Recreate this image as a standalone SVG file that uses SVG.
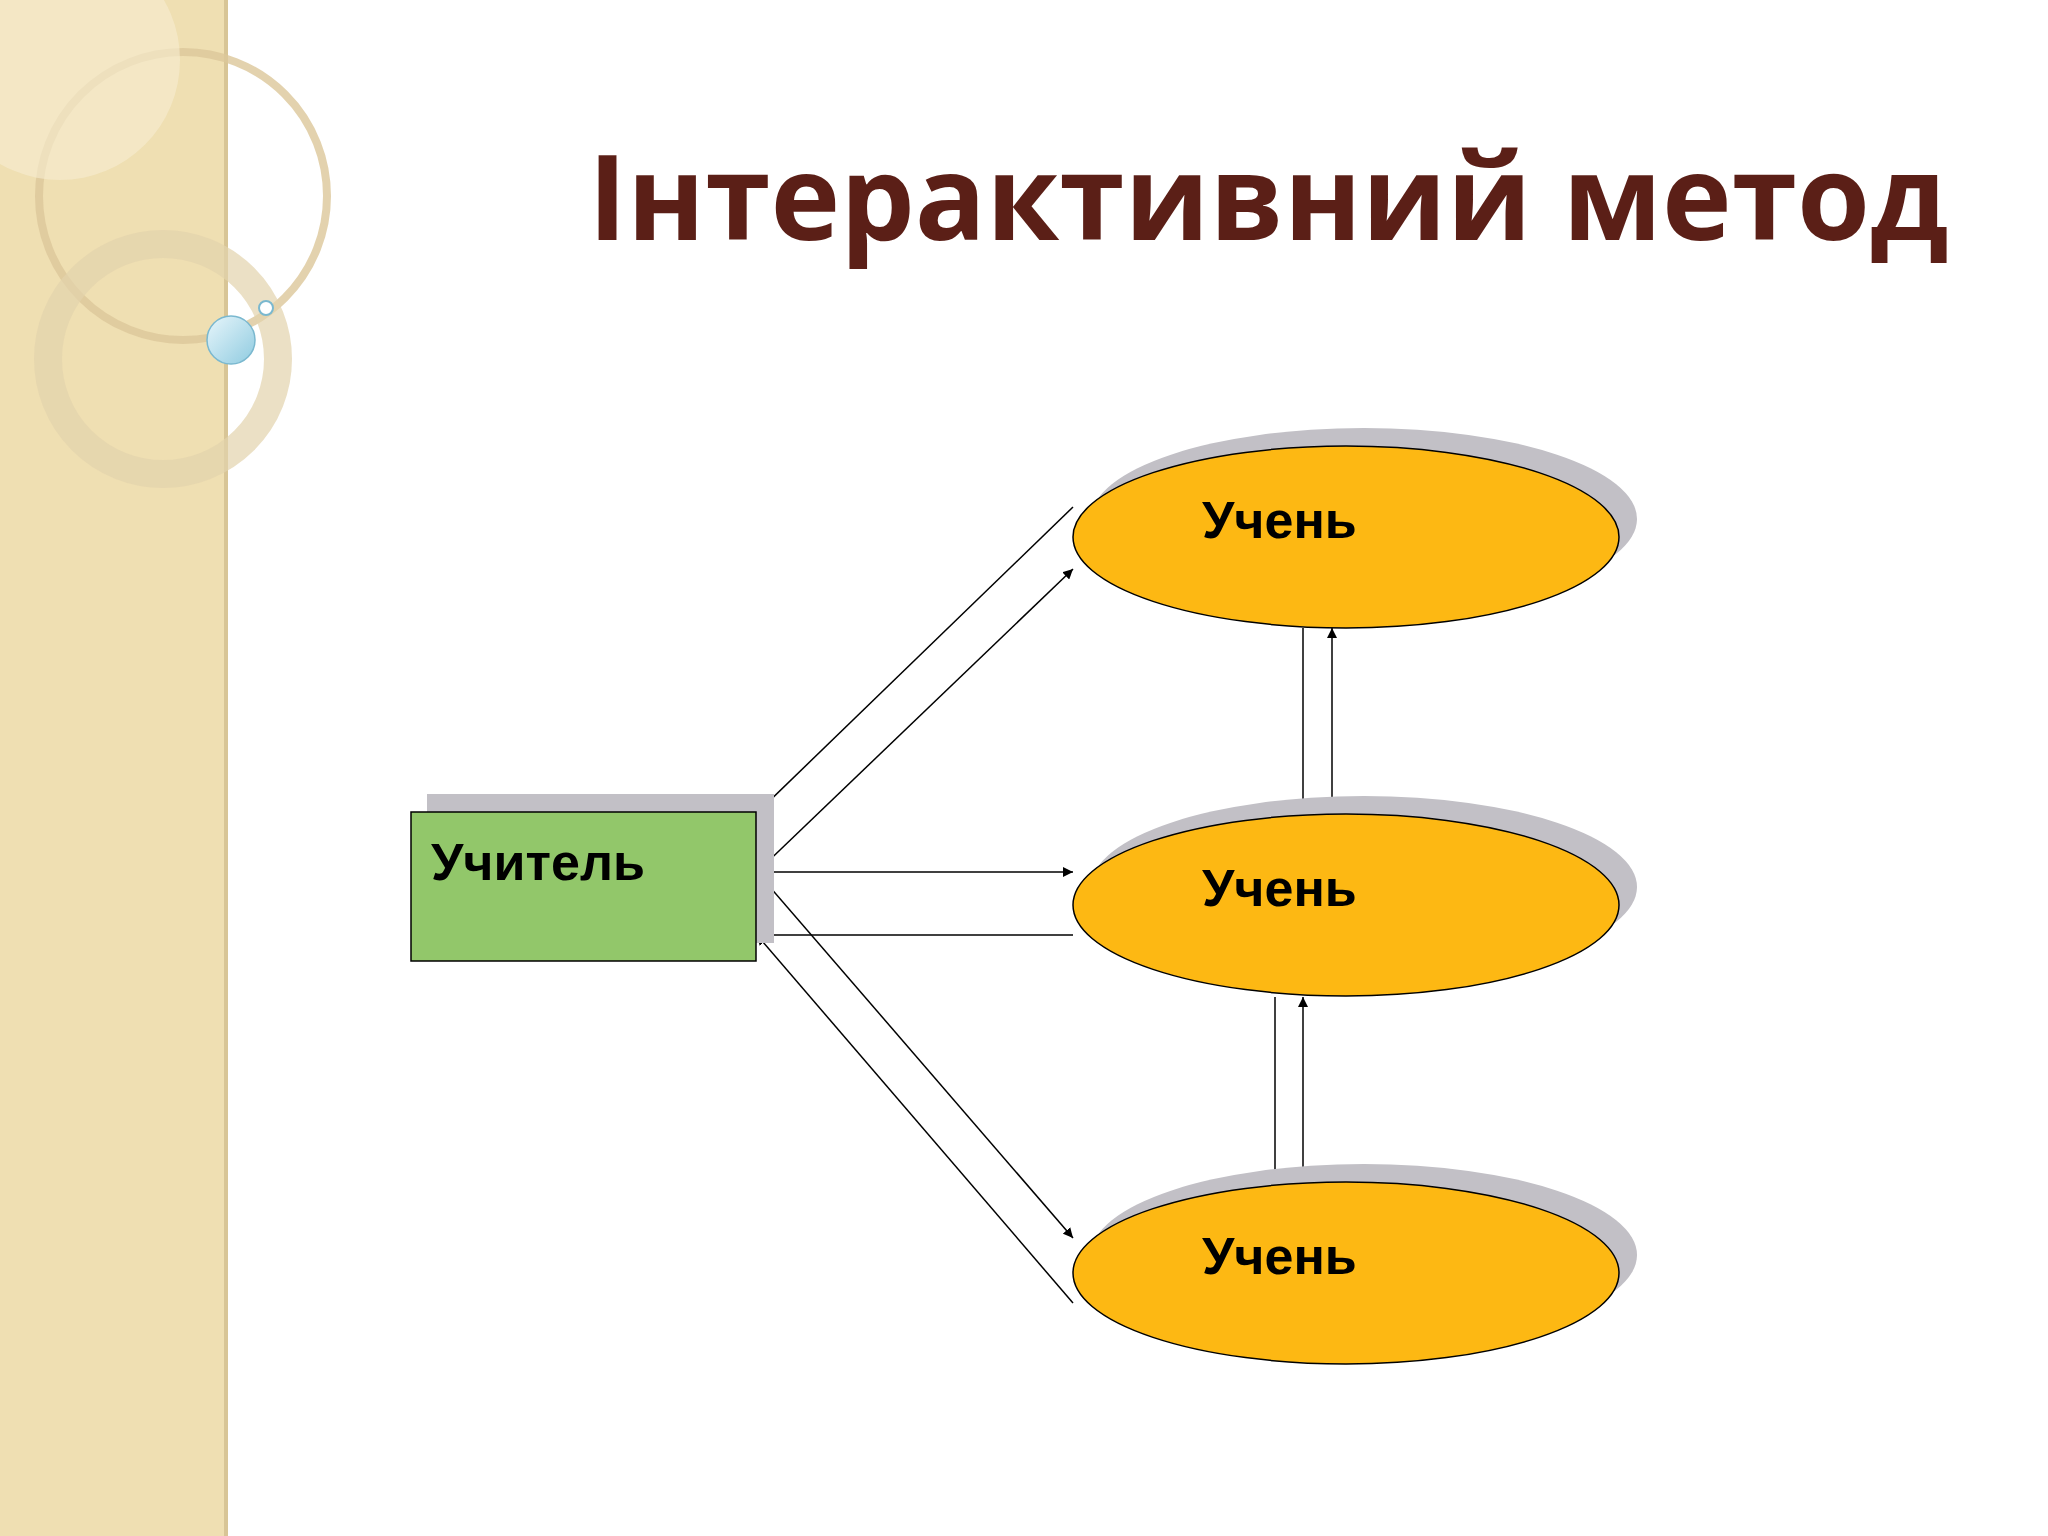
<svg xmlns="http://www.w3.org/2000/svg" width="2048" height="1536" viewBox="0 0 2048 1536">
<defs>
<style>
.lbl{font-family:"Liberation Sans",Arial,sans-serif;font-weight:bold;font-size:52px;fill:#000}
.ell{fill:#fdb813;stroke:#000;stroke-width:1.5}
.sh{fill:#c2c0c6}
.c{stroke:#000;stroke-width:1.5;fill:none;marker-end:url(#a)}
</style>
<marker id="a" viewBox="0 0 10 10" refX="10" refY="5" markerWidth="10" markerHeight="10" markerUnits="userSpaceOnUse" orient="auto"><path d="M0,0 L10,5 L0,10 z" fill="#000"/></marker>
<linearGradient id="bub" x1="0" y1="0" x2="1" y2="1"><stop offset="0" stop-color="#e8f6fb"/><stop offset="1" stop-color="#8fcbe0"/></linearGradient>
</defs>
<rect width="2048" height="1536" fill="#fff"/>
<rect width="227" height="1536" fill="#efdfb2"/>
<rect x="224" width="4" height="1536" fill="#d8c596"/>
<circle cx="183" cy="196" r="144" fill="none" stroke="#dcc79a" stroke-width="8" opacity="0.8"/>
<circle cx="163" cy="359" r="115" fill="none" stroke="#e3d3ac" stroke-width="28" opacity="0.7"/>
<circle cx="60" cy="60" r="120" fill="#f6ecd2" opacity="0.6"/>
<circle cx="231" cy="340" r="24" fill="url(#bub)" stroke="#7ab8cf" stroke-width="1.5"/>
<circle cx="266" cy="308" r="7" fill="#fff" stroke="#7ab8cf" stroke-width="2"/>
<text x="588" y="240" font-family="'Open Sans','Noto Sans',sans-serif" font-weight="bold" font-size="118" fill="#5b1f17">Інтерактивний метод</text>
<g id="connectors">
<line class="c" x1="1073" y1="507" x2="759" y2="811"/>
<line class="c" x1="757" y1="872" x2="1073" y2="569"/>
<line class="c" x1="757" y1="872" x2="1073" y2="872"/>
<line class="c" x1="1073" y1="935" x2="757" y2="935"/>
<line class="c" x1="757" y1="872" x2="1073" y2="1238"/>
<line class="c" x1="1073" y1="1303" x2="757" y2="935"/>
<line class="c" x1="1303" y1="628" x2="1303" y2="812"/>
<line class="c" x1="1332" y1="812" x2="1332" y2="628"/>
<line class="c" x1="1275" y1="997" x2="1275" y2="1181"/>
<line class="c" x1="1303" y1="1181" x2="1303" y2="997"/>
</g>
<g id="teacher">
<rect class="sh" x="427" y="794" width="347" height="149"/>
<rect x="411" y="812" width="345" height="149" fill="#92c76a" stroke="#000" stroke-width="1.5"/>
<text class="lbl" x="431" y="880">Учитель</text>
</g>
<g id="student1">
<ellipse class="sh" cx="1364" cy="519" rx="273" ry="91"/>
<ellipse class="ell" cx="1346" cy="537" rx="273" ry="91"/>
<text class="lbl" x="1202" y="538">Учень</text>
</g>
<g id="student2">
<ellipse class="sh" cx="1364" cy="887" rx="273" ry="91"/>
<ellipse class="ell" cx="1346" cy="905" rx="273" ry="91"/>
<text class="lbl" x="1202" y="906">Учень</text>
</g>
<g id="student3">
<ellipse class="sh" cx="1364" cy="1255" rx="273" ry="91"/>
<ellipse class="ell" cx="1346" cy="1273" rx="273" ry="91"/>
<text class="lbl" x="1202" y="1274">Учень</text>
</g>
</svg>
